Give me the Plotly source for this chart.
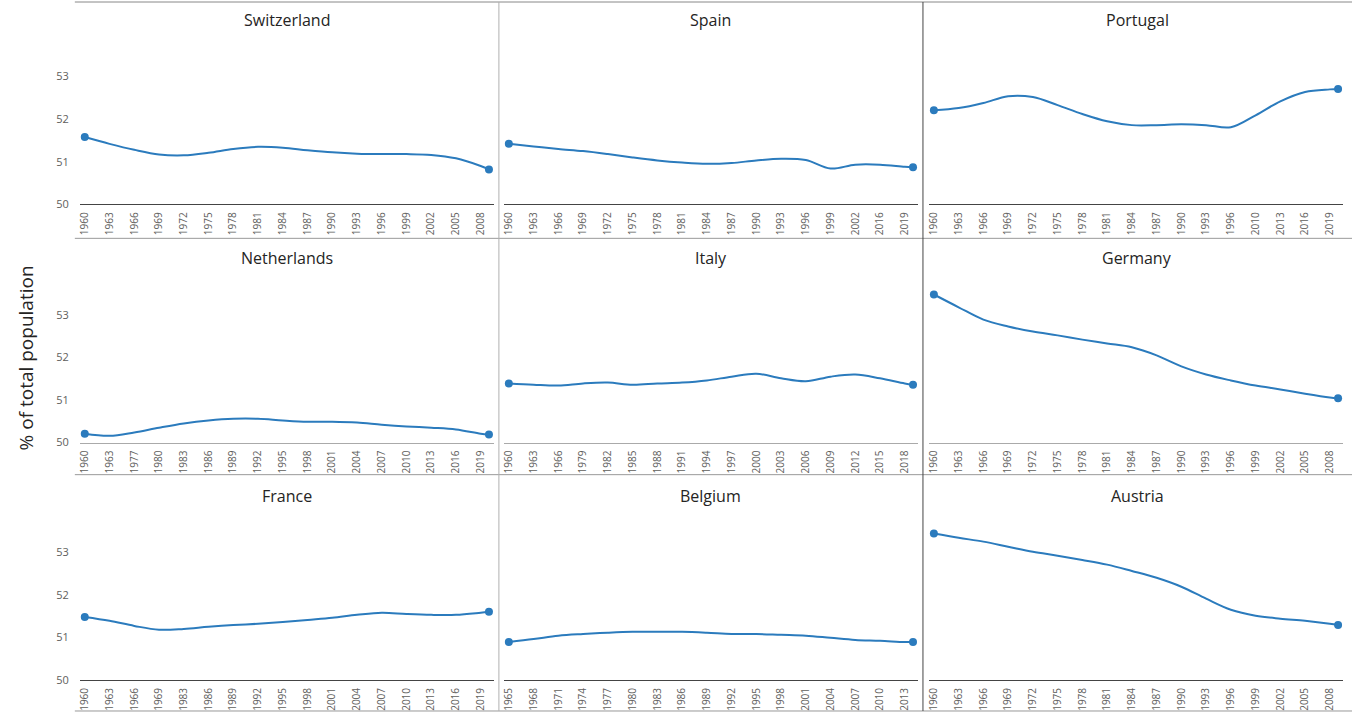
import plotly.graph_objects as go

# ---------------- data ----------------
countries = ["Switzerland", "Spain", "Portugal",
             "Netherlands", "Italy", "Germany",
             "France", "Belgium", "Austria"]

# full category lists (years present in each panel's data)
cat_switzerland = list(range(1960, 2010))
cat_spain = list(range(1960, 2003)) + list(range(2014, 2021))
cat_portugal = list(range(1960, 1997)) + list(range(2008, 2021))
cat_netherlands = list(range(1960, 1964)) + list(range(1975, 2021))
cat_italy = list(range(1960, 1967)) + list(range(1977, 2020))
cat_germany = list(range(1960, 2010))
cat_france = list(range(1960, 1970)) + list(range(1981, 2021))
cat_belgium = list(range(1965, 2015))
cat_austria = list(range(1960, 2010))

# sampled years and values (% of total population)
yr_switzerland = [1960, 1963, 1966, 1969, 1972, 1975, 1978, 1981, 1984, 1987, 1990, 1993, 1996, 1999, 2002, 2005, 2008, 2009]
val_switzerland = [51.58, 51.42, 51.28, 51.17, 51.15, 51.21, 51.30, 51.35, 51.33, 51.27, 51.22, 51.19, 51.18, 51.18, 51.16, 51.08, 50.90, 50.82]

yr_spain = [1960, 1963, 1966, 1969, 1972, 1975, 1978, 1981, 1984, 1987, 1990, 1993, 1996, 1999, 2002, 2016, 2019, 2020]
val_spain = [51.42, 51.36, 51.30, 51.25, 51.18, 51.10, 51.03, 50.98, 50.95, 50.97, 51.03, 51.07, 51.04, 50.84, 50.93, 50.93, 50.88, 50.87]

yr_portugal = [1960, 1963, 1966, 1969, 1972, 1975, 1978, 1981, 1984, 1987, 1990, 1993, 1996, 2010, 2013, 2016, 2019, 2020]
val_portugal = [52.21, 52.26, 52.38, 52.54, 52.52, 52.33, 52.12, 51.95, 51.86, 51.86, 51.88, 51.86, 51.81, 52.09, 52.42, 52.64, 52.70, 52.71]

yr_netherlands = [1960, 1963, 1977, 1980, 1983, 1986, 1989, 1992, 1995, 1998, 2001, 2004, 2007, 2010, 2013, 2016, 2019, 2020]
val_netherlands = [50.21, 50.16, 50.24, 50.35, 50.45, 50.52, 50.56, 50.56, 50.52, 50.49, 50.49, 50.47, 50.42, 50.38, 50.35, 50.31, 50.21, 50.19]

yr_italy = [1960, 1963, 1966, 1979, 1982, 1985, 1988, 1991, 1994, 1997, 2000, 2003, 2006, 2009, 2012, 2015, 2018, 2019]
val_italy = [51.39, 51.36, 51.34, 51.39, 51.41, 51.36, 51.39, 51.41, 51.46, 51.55, 51.62, 51.51, 51.44, 51.55, 51.60, 51.51, 51.39, 51.36]

yr_germany = [1960, 1963, 1966, 1969, 1972, 1975, 1978, 1981, 1984, 1987, 1990, 1993, 1996, 1999, 2002, 2005, 2008, 2009]
val_germany = [53.48, 53.18, 52.89, 52.73, 52.61, 52.52, 52.42, 52.33, 52.24, 52.05, 51.79, 51.60, 51.46, 51.34, 51.25, 51.15, 51.06, 51.04]

yr_france = [1960, 1963, 1966, 1969, 1983, 1986, 1989, 1992, 1995, 1998, 2001, 2004, 2007, 2010, 2013, 2016, 2019, 2020]
val_france = [51.48, 51.39, 51.27, 51.18, 51.20, 51.25, 51.29, 51.32, 51.36, 51.41, 51.46, 51.53, 51.58, 51.55, 51.53, 51.53, 51.58, 51.60]

yr_belgium = [1965, 1968, 1971, 1974, 1977, 1980, 1983, 1986, 1989, 1992, 1995, 1998, 2001, 2004, 2007, 2010, 2013, 2014]
val_belgium = [50.89, 50.96, 51.04, 51.08, 51.11, 51.13, 51.13, 51.13, 51.11, 51.08, 51.08, 51.06, 51.04, 50.99, 50.94, 50.92, 50.89, 50.89]

yr_austria = [1960, 1963, 1966, 1969, 1972, 1975, 1978, 1981, 1984, 1987, 1990, 1993, 1996, 1999, 2002, 2005, 2008, 2009]
val_austria = [53.44, 53.34, 53.25, 53.13, 53.01, 52.92, 52.82, 52.71, 52.56, 52.40, 52.19, 51.91, 51.65, 51.51, 51.44, 51.39, 51.32, 51.29]

y_ticks = [50, 51, 52, 53]
y_title = "% of total population"

panels = [
    (cat_switzerland, yr_switzerland, val_switzerland),
    (cat_spain, yr_spain, val_spain),
    (cat_portugal, yr_portugal, val_portugal),
    (cat_netherlands, yr_netherlands, val_netherlands),
    (cat_italy, yr_italy, val_italy),
    (cat_germany, yr_germany, val_germany),
    (cat_france, yr_france, val_france),
    (cat_belgium, yr_belgium, val_belgium),
    (cat_austria, yr_austria, val_austria),
]

# ---------------- layout geometry ----------------
W, H = 1352, 715          # reference pixel frame
FIG_H = 723               # page height (captured frame is squeezed to 715)
LINE = "#2b7bbd"
TXT = "#605E5C"
TITLE = "#252423"
FONT = "Open Sans"

col_px = [(77, 492), (502, 917), (928, 1343)]
row_base = [204, 442, 679]
row_top = [b - 170 for b in row_base]

def px_x(p):
    return p / W

def px_y(p):
    return 1 - p / H

fig = go.Figure()
layout = {}

for i, (cats, yrs, vals) in enumerate(panels):
    r, c = divmod(i, 3)
    n = i + 1
    xa = "x" if n == 1 else f"x{n}"
    ya = "y" if n == 1 else f"y{n}"
    xs = [cats.index(y) for y in yrs]
    sizes = [8 if k in (0, len(xs) - 1) else 0 for k in range(len(xs))]
    fig.add_trace(go.Scatter(
        x=xs, y=vals, mode="lines+markers",
        line=dict(color=LINE, width=2, shape="spline", smoothing=1.0),
        marker=dict(color=LINE, size=sizes, opacity=1, line=dict(width=0)),
        xaxis=xa, yaxis=ya, showlegend=False,
        hovertemplate="%{y}<extra></extra>",
    ))
    tickidx = list(range(0, len(cats), 3))
    axis_color = "#aaaaaa" if r == 1 else "#444444"
    layout["xaxis" if n == 1 else f"xaxis{n}"] = dict(
        domain=[px_x(col_px[c][0]), px_x(col_px[c][1])],
        anchor=ya, range=[-0.6, len(cats) - 0.4],
        tickmode="array", tickvals=tickidx,
        ticktext=[str(cats[k]) for k in tickidx],
        tickangle=-90, tickfont=dict(size=10, color=TXT, family=FONT),
        showgrid=False, zeroline=False, showline=True,
        linecolor=axis_color, linewidth=1, ticks="", ticklabelstandoff=3,
    )
    layout["yaxis" if n == 1 else f"yaxis{n}"] = dict(
        domain=[px_y(row_base[r]), px_y(row_top[r])],
        anchor=xa, range=[50, 54],
        tickmode="array", tickvals=y_ticks,
        showticklabels=(c == 0),
        tickfont=dict(size=11, color=TXT, family=FONT),
        showgrid=False, zeroline=False, showline=False, ticks="",
        ticklabelstandoff=10,
    )

annotations = []
centers = [(72 + 497) / 2, (497 + 922) / 2, (922 + 1352) / 2]
title_y = [20, 258, 495]
for i, name in enumerate(countries):
    r, c = divmod(i, 3)
    annotations.append(dict(
        text=name, x=px_x(centers[c]), y=px_y(title_y[r]),
        xref="paper", yref="paper", showarrow=False,
        xanchor="center", yanchor="middle",
        font=dict(size=16, color=TITLE, family=FONT),
    ))
annotations.append(dict(
    text=y_title, x=px_x(24), y=px_y(357), xref="paper", yref="paper",
    showarrow=False, textangle=-90, xanchor="center", yanchor="middle",
    font=dict(size=19, color=TITLE, family=FONT),
))

shapes = []
def hline(ypx, x0, x1, color):
    shapes.append(dict(type="line", xref="paper", yref="paper",
                       x0=px_x(x0), x1=px_x(x1), y0=px_y(ypx), y1=px_y(ypx),
                       line=dict(color=color, width=1)))
def vline(xpx, y0, y1, color):
    shapes.append(dict(type="line", xref="paper", yref="paper",
                       x0=px_x(xpx), x1=px_x(xpx), y0=px_y(y0), y1=px_y(y1),
                       line=dict(color=color, width=1)))

hline(2, 72, 1352, "#888888")
hline(238, 72, 1352, "#999999")
hline(474, 72, 1352, "#999999")
hline(710, 72, 1352, "#999999")
vline(497, 2, 710, "#b0b0b0")
vline(922, 2, 710, "#444444")

fig.update_layout(
    width=W, height=FIG_H,
    margin=dict(l=0, r=0, t=0, b=0),
    paper_bgcolor="white", plot_bgcolor="white",
    annotations=annotations, shapes=shapes,
    font=dict(family=FONT),
    **layout,
)

fig.write_html(
    "out.html",
    config={"displayModeBar": False},
    post_script="document.body.style.margin='0';document.body.style.overflow='hidden';",
)
